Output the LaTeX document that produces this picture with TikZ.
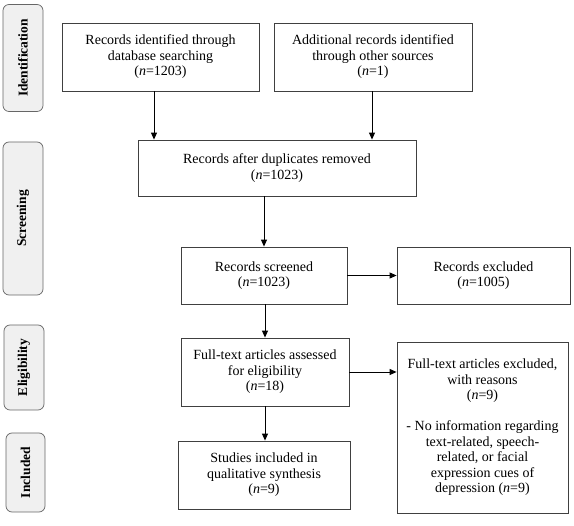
\documentclass[tikz,border=0pt]{standalone}
\usepackage{fontspec}
\setmainfont{Liberation Serif}
\usetikzlibrary{arrows.meta}
\definecolor{linec}{HTML}{404040}
\definecolor{sidefill}{HTML}{F0F0F0}
\begin{document}
\begin{tikzpicture}[x=1pt,y=-1pt,
  box/.style={draw=linec,line width=0.8pt,rectangle,align=center,inner sep=2pt,
    font=\fontsize{14}{15.5}\selectfont,anchor=center},
  side/.style={draw=linec!80,line width=0.7pt,rounded corners=6pt,fill=sidefill,
    anchor=center,inner sep=0pt,font=\bfseries\fontsize{13.5}{15}\selectfont},
  arr/.style={draw=black,line width=0.9pt,-{Triangle[length=7pt,width=6pt]}}]
\useasboundingbox (0,0) rectangle (574,526);
% side labels
\node[side,minimum width=107,minimum height=40,rotate=90] (sid) at (23,58) {Identification};
\node[side,minimum width=153,minimum height=40,rotate=90] (ssc) at (23,218.5) {Screening};
\node[side,minimum width=85,minimum height=40,rotate=90] (sel) at (24,367.5) {Eligibility};
\node[side,minimum width=79,minimum height=39,rotate=90] (sin) at (25.5,472.5) {Included};
% boxes
\node[box,minimum width=197,minimum height=68] (b1) at (160.5,57) {Records identified through\\database searching\\(\textit{n}=1203)};
\node[box,minimum width=198,minimum height=68] (b2) at (373,57) {Additional records identified\\through other sources\\(\textit{n}=1)};
\node[box,minimum width=278,minimum height=56] (b3) at (277,168) {Records after duplicates removed\\(\textit{n}=1023)};
\node[box,minimum width=166,minimum height=57] (b4) at (264,275.5) {Records screened\\(\textit{n}=1023)};
\node[box,minimum width=173,minimum height=57] (b5) at (483.5,275.5) {Records excluded\\(\textit{n}=1005)};
\node[box,minimum width=168,minimum height=68] (b6) at (265,372) {Full-text articles assessed\\for eligibility\\(\textit{n}=18)};
\node[box,minimum width=171,minimum height=171] (b7) at (482.5,427.5) {Full-text articles excluded,\\with reasons\\(\textit{n}=9)\\[15.5pt]- No information regarding\\text-related, speech-\\related, or facial\\expression cues of\\depression (\textit{n}=9)};
\node[box,minimum width=172,minimum height=68] (b8) at (264,475) {Studies included in\\qualitative synthesis\\(\textit{n}=9)};
% arrows
\draw[arr] (b1.south -| 154,0) -- (b3.north -| 154,0);
\draw[arr] (b2.south -| 372,0) -- (b3.north -| 372,0);
\draw[arr] (b3.south -| b4.north) -- (b4.north);
\draw[arr] (b4.east) -- (b5.west);
\draw[arr] (b4.south -| 265,0) -- (b6.north -| 265,0);
\draw[arr] (b6.east) -- (b6.east -| b7.west);
\draw[arr] (b6.south -| 265,0) -- (b8.north -| 265,0);
\end{tikzpicture}
\end{document}
